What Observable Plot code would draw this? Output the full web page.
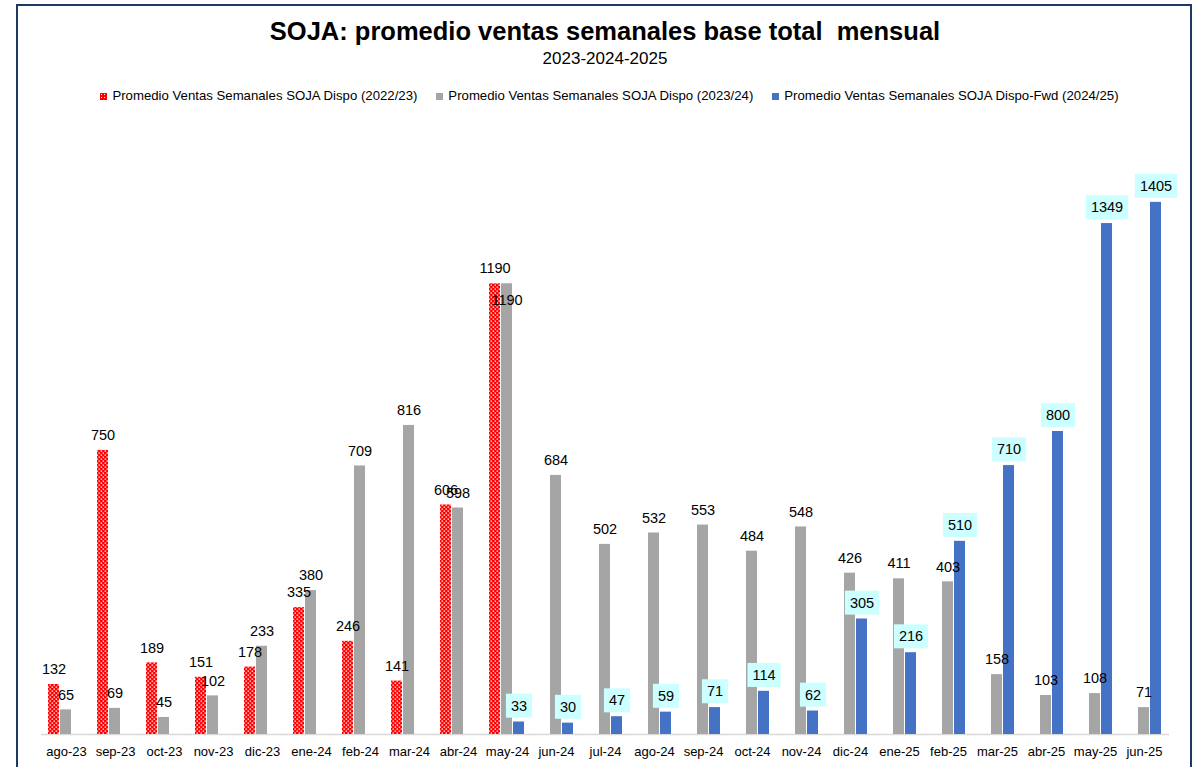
<!DOCTYPE html>
<html>
<head>
<meta charset="utf-8">
<script src="https://cdn.jsdelivr.net/npm/d3@7"></script>
<script src="https://cdn.jsdelivr.net/npm/@observablehq/plot@0.6"></script>
<style>
html, body { margin: 0; padding: 0; background: #fff; }
#wrap { position: relative; width: 1196px; height: 767px; overflow: hidden; font-family: "Liberation Sans", Arial, sans-serif; color: #000; }
#frame { position: absolute; left: 16px; top: 4px; width: 1176px; height: 800px; border: 2px solid #1f3864; box-sizing: border-box; }
#title { position: absolute; left: 0; width: 1210px; top: 16px; text-align: center; font-weight: bold; font-size: 25.5px; white-space: pre; line-height: 30px; }
#subtitle { position: absolute; left: 0; width: 1210px; top: 49px; text-align: center; font-size: 17px; line-height: 20px; }
#legend { position: absolute; left: 0; width: 1219px; top: 88px; display: flex; justify-content: center; gap: 19px; font-size: 13.2px; line-height: 16px; }
#legend .item { display: flex; align-items: center; gap: 5px; white-space: nowrap; }
#legend .sw { width: 7px; height: 7px; display: inline-block; }
#chart { position: absolute; left: 0; top: 110px; }
</style>
</head>
<body>
<div id="wrap">
  <div id="frame"></div>
  <div id="title"></div>
  <div id="subtitle"></div>
  <div id="legend"></div>
  <div id="chart"></div>
</div>
<script>
const titleText = "SOJA: promedio ventas semanales base total  mensual";
const subtitleText = "2023-2024-2025";

const months = ["ago-23","sep-23","oct-23","nov-23","dic-23","ene-24","feb-24","mar-24","abr-24","may-24",
  "jun-24","jul-24","ago-24","sep-24","oct-24","nov-24","dic-24","ene-25","feb-25","mar-25","abr-25","may-25","jun-25"];

const seriesNames = [
  "Promedio Ventas Semanales SOJA Dispo (2022/23)",
  "Promedio Ventas Semanales SOJA Dispo (2023/24)",
  "Promedio Ventas Semanales SOJA Dispo-Fwd (2024/25)"
];

const red2223 = [132, 750, 189, 151, 178, 335, 246, 141, 606, 1190,
  null, null, null, null, null, null, null, null, null, null, null, null, null];

const gray2324 = [65, 69, 45, 102, 233, 380, 709, 816, 598, 1190,
  684, 502, 532, 553, 484, 548, 426, 411, 403, 158, 103, 108, 71];

const blue2425 = [null, null, null, null, null, null, null, null, null, 33,
  30, 47, 59, 71, 114, 62, 305, 216, 510, 710, 800, 1349, 1405];

const seriesColors = ["url(#redpat)", "#A5A5A5", "#4472C4"];

document.getElementById("title").textContent = titleText;
document.getElementById("subtitle").textContent = subtitleText;

const legend = document.getElementById("legend");
seriesNames.forEach((name, i) => {
  const it = document.createElement("div");
  it.className = "item";
  const sw = document.createElement("span");
  sw.className = "sw";
  if (i === 0) {
    sw.style.background = "#ff0000";
    sw.style.backgroundImage = "radial-gradient(#ffffff 35%, transparent 40%)";
    sw.style.backgroundSize = "3px 3px";
  } else {
    sw.style.background = seriesColors[i];
  }
  const tx = document.createElement("span");
  tx.textContent = name;
  it.appendChild(sw);
  it.appendChild(tx);
  legend.appendChild(it);
});

const keys = ["a", "b", "c"];
function rowsOf(arr, k) {
  return months.map((m, i) => ({month: m, s: k, value: arr[i], idx: i})).filter(d => d.value != null);
}
const redRows = rowsOf(red2223, "a");
const grayRows = rowsOf(gray2324, "b");
const blueRows = rowsOf(blue2425, "c");
const grayNormal = grayRows.filter(d => red2223[d.idx] !== d.value);
const grayShifted = grayRows.filter(d => red2223[d.idx] === d.value);

const lblFont = 14.5;

const svg = Plot.plot({
  width: 1196,
  height: 657,
  marginLeft: 37,
  marginRight: 23,
  marginTop: 18,
  marginBottom: 33,
  style: {fontFamily: "'Liberation Sans', Arial, sans-serif", fontSize: "13px", color: "#000", background: "transparent"},
  fx: {domain: months, paddingInner: 0.27, paddingOuter: 0.135, axis: "bottom", tickSize: 0, tickPadding: 12, label: null},
  x: {domain: keys, paddingInner: 0.06, paddingOuter: 0, axis: null},
  y: {domain: [0, 1600], axis: null},
  marks: [
    Plot.ruleY([0], {stroke: "#d9d9d9", strokeWidth: 1.5, insetLeft: -7, insetRight: -7}),
    Plot.barY(redRows, {fx: "month", x: "s", y: "value", fill: seriesColors[0]}),
    Plot.barY(grayRows, {fx: "month", x: "s", y: "value", fill: seriesColors[1]}),
    Plot.barY(blueRows, {fx: "month", x: "s", y: "value", fill: seriesColors[2]}),
    Plot.text(redRows, {fx: "month", x: "s", y: "value", text: d => String(d.value), dy: -15, fontSize: lblFont, fill: "#000"}),
    Plot.text(grayNormal, {fx: "month", x: "s", y: "value", text: d => String(d.value), dy: -15, fontSize: lblFont, fill: "#000"}),
    Plot.text(grayShifted, {fx: "month", x: "s", y: "value", text: d => String(d.value), dy: 17, fontSize: lblFont, fill: "#000"}),
    Plot.text(blueRows, {fx: "month", x: "s", y: "value", text: d => String(d.value), dy: -16, fontSize: lblFont, fill: "#010101", ariaDescription: "blue-labels"})
  ]
});

document.getElementById("chart").appendChild(svg);

// red dotted pattern definition
const root = d3.select(svg);
const defs = root.insert("defs", ":first-child");
const pat = defs.append("pattern").attr("id", "redpat").attr("patternUnits", "userSpaceOnUse").attr("width", 4).attr("height", 4);
pat.append("rect").attr("width", 4).attr("height", 4).attr("fill", "#ff0000");
pat.append("rect").attr("x", 0.5).attr("y", 0.5).attr("width", 1.6).attr("height", 1.2).attr("fill", "#ffffff");
pat.append("rect").attr("x", 2.5).attr("y", 2.5).attr("width", 1.6).attr("height", 1.2).attr("fill", "#ffffff");

// light turquoise boxes behind the blue-series labels
let blueTexts = root.selectAll('g[aria-description="blue-labels"] text');
if (blueTexts.empty()) blueTexts = root.selectAll('g[fill="#010101"] text');
blueTexts.each(function() {
  const bb = this.getBBox();
  const cy = bb.y + bb.height / 2;
  const r = document.createElementNS("http://www.w3.org/2000/svg", "rect");
  r.setAttribute("x", bb.x - 5);
  r.setAttribute("y", cy - 12);
  r.setAttribute("width", bb.width + 10);
  r.setAttribute("height", 24);
  r.setAttribute("fill", "#ccffff");
  const tr = this.getAttribute("transform");
  if (tr) r.setAttribute("transform", tr);
  this.parentNode.insertBefore(r, this);
});
</script>
</body>
</html>
